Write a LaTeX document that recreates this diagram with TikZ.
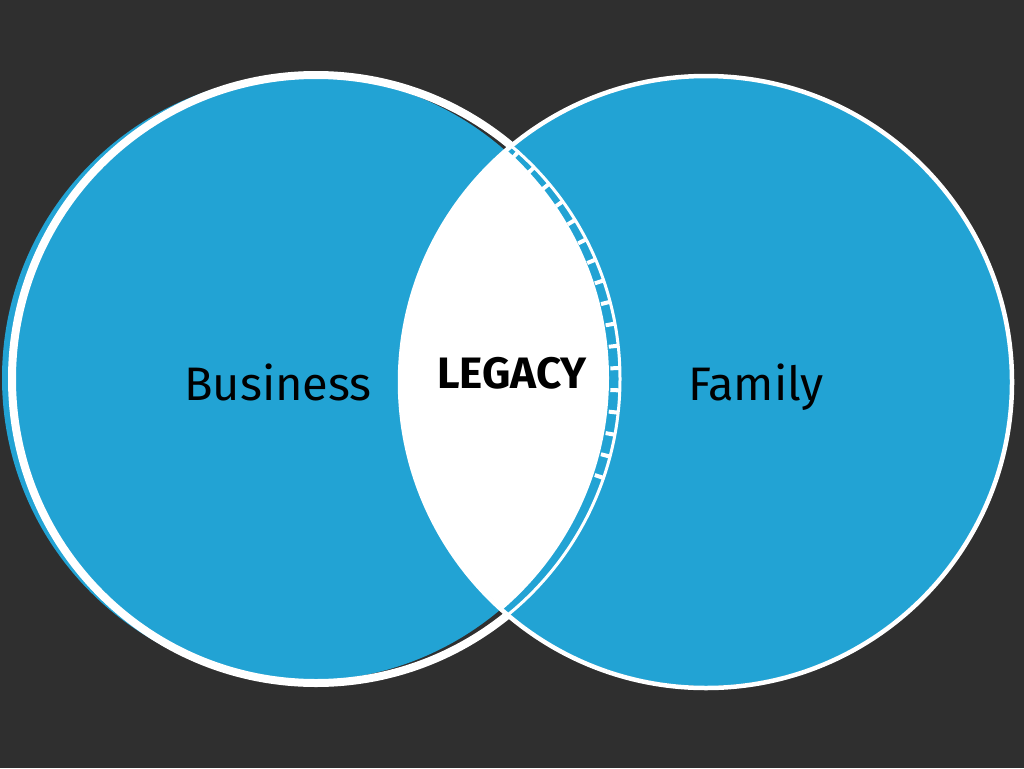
\documentclass[tikz,border=0pt]{standalone}
\usepackage{fontspec}
\setmainfont{Fira Sans}
\definecolor{bgdark}{HTML}{2F2F2F}
\definecolor{venn}{HTML}{22A3D4}

\begin{document}
\begin{tikzpicture}[x=1pt,y=-1pt,
		ring/.style={draw=white},
		word/.style={anchor=base,text=black,inner sep=0pt,font=\fontsize{47}{47}\selectfont}]
			\fill[bgdark] (0,0) rectangle (1024,768);
			\useasboundingbox (0,0) rectangle (1024,768);
			% left circle
			\fill[venn] (305,378) circle (303);
			\draw[ring,line width=8] (316,379) circle (304);
			% right circle
			\fill[venn] (706,381) circle (305);
			\draw[ring,line width=4.5] (706,382) circle (306);
			% overlap
			\begin{scope}
				\clip (706,381) circle (305);
				\fill[white] (304,378) circle (305);
				\draw[white,line width=9,dash pattern=on 4 off 18] ([shift={(310,379)}]-52:305) arc[start angle=-52,end angle=20,radius=305];
				\draw[ring,line width=3] (316,379) circle (304);
			\end{scope}
			\node[word] (business) at (278,400) {Business};
			\node[word,font=\bfseries\fontsize{44}{44}\selectfont] (legacy) at (512,388) {LEGACY};
			\node[word] (family) at (756,400) {Family};
		\end{tikzpicture}
\end{document}
